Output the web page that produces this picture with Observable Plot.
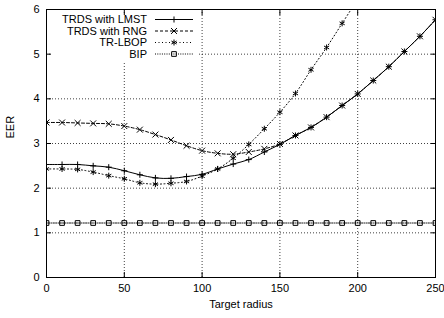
<!DOCTYPE html>
<html><head><meta charset="utf-8">
<script src="https://cdn.jsdelivr.net/npm/d3@7"></script>
<script src="https://cdn.jsdelivr.net/npm/@observablehq/plot@0.6"></script>
<style>
html,body{margin:0;padding:0;background:#fff;}
#chart{position:relative;width:444px;height:318px;}
#chart svg{font-family:"Liberation Sans",Arial,Helvetica,sans-serif;}
#legend{position:absolute;left:0;top:0;pointer-events:none;}
</style></head><body><div id="chart"></div>
<script>
const radius = [0,10,20,30,40,50,60,70,80,90,100,110,120,130,140,150,160,170,180,190,200,210,220,230,240,250];
const lmst = [2.53,2.53,2.53,2.50,2.47,2.39,2.30,2.23,2.22,2.26,2.31,2.43,2.54,2.64,2.81,2.98,3.18,3.36,3.59,3.85,4.11,4.41,4.72,5.06,5.40,5.77];
const rng  = [3.47,3.47,3.46,3.45,3.44,3.39,3.31,3.20,3.08,2.95,2.84,2.78,2.76,2.81,2.88,2.99,3.18,3.36,3.59,3.85,4.11,4.41,4.72,5.06,5.40,5.77];
const lbopRadius = [0,10,20,30,40,50,60,70,80,90,100,110,120,130,140,150,160,170,180,190,200];
const lbop = [2.43,2.43,2.42,2.36,2.28,2.21,2.12,2.09,2.11,2.15,2.27,2.43,2.67,2.98,3.33,3.70,4.12,4.65,5.15,5.69,6.23];
const bip  = [1.22,1.22,1.22,1.22,1.22,1.22,1.22,1.22,1.22,1.22,1.22,1.22,1.22,1.22,1.22,1.22,1.22,1.22,1.22,1.22,1.22,1.22,1.22,1.22,1.22,1.22];
const seriesNames = ["TRDS with LMST","TRDS with RNG","TR-LBOP","BIP"];
const xTicks = [0,50,100,150,200,250];
const yTicks = [0,1,2,3,4,5,6];
const xLabel = "Target radius";
const yLabel = "EER";

const styles = {
  "TRDS with LMST": {dash: null, symbol: "plus", r: 2.1},
  "TRDS with RNG": {dash: "3,2", symbol: "times", r: 2.8},
  "TR-LBOP": {dash: "1,2.5", symbol: "asterisk", r: 2.8},
  "BIP": {dash: "1,1.3", symbol: "square2", r: 3}
};
const table = [];
radius.forEach((x,i)=>table.push({s:seriesNames[0],x,y:lmst[i]}));
radius.forEach((x,i)=>table.push({s:seriesNames[1],x,y:rng[i]}));
lbopRadius.forEach((x,i)=>table.push({s:seriesNames[2],x,y:lbop[i]}));
radius.forEach((x,i)=>table.push({s:seriesNames[3],x,y:bip[i]}));

const seriesMarks = [];
for (const name of seriesNames) {
  const st = styles[name];
  const d = table.filter(r=>r.s===name);
  seriesMarks.push(Plot.line(d,{x:"x",y:"y",stroke:"#000",strokeWidth:1,strokeDasharray:st.dash,curve:"catmull-rom",clip:true}));
  seriesMarks.push(Plot.dot(d,{x:"x",y:"y",stroke:"#000",strokeWidth:1,fill:"none",symbol:()=>st.symbol,r:st.r,clip:true}));
}

const W=444,H=318,mL=46,mR=9,mT=9,mB=41;
const font = "Liberation Sans, Arial, Helvetica, sans-serif";
const grid = {stroke:"#000",strokeOpacity:0.75,strokeDasharray:"1,2",strokeWidth:1};
const plot = Plot.plot({
  width:W,height:H,marginLeft:mL,marginRight:mR,marginTop:mT,marginBottom:mB,
  style:{fontFamily:font,fontSize:"11px",color:"#000",background:"#fff"},
  x:{domain:[0,250]},
  y:{domain:[0,6]},
  marks:[
    Plot.gridX(xTicks.slice(1,-1),grid),
    Plot.gridY(yTicks.slice(1,-1),grid),
    Plot.axisX(xTicks,{tickSize:0,tickPadding:7,label:null,fontSize:11}),
    Plot.axisX(xTicks,{tickSize:-5,text:null,label:null}),
    Plot.axisX(xTicks,{anchor:"top",tickSize:-5,text:null,label:null}),
    Plot.axisY(yTicks,{tickSize:0,tickPadding:7,label:null,fontSize:11}),
    Plot.axisY(yTicks,{tickSize:-5,text:null,label:null}),
    Plot.axisY(yTicks,{anchor:"right",tickSize:-5,text:null,label:null}),
    Plot.text([xLabel],{text:d=>d,frameAnchor:"bottom",dy:30,fontSize:11}),
    Plot.text([yLabel],{text:d=>d,frameAnchor:"left",rotate:-90,dx:-36,dy:-5,fontSize:11}),
    Plot.frame({stroke:"#000",strokeWidth:1}),
    ...seriesMarks
  ]
});
document.getElementById("chart").appendChild(plot);

// legend overlay (gnuplot-style key)
const svg = d3.select("#chart").append("svg").attr("id","legend")
  .attr("width",W).attr("height",H).style("font-family",font).style("font-size","11px");
svg.append("rect").attr("x",52).attr("y",15).attr("width",147).attr("height",46).attr("fill","#fff");
const rowY = [19.5,31,42.5,54];
const symMap = {plus:d3.symbolPlus,times:d3.symbolTimes,asterisk:d3.symbolAsterisk,square2:d3.symbolSquare2};
seriesNames.forEach((name,i)=>{
  const st = styles[name];
  const y = rowY[i];
  svg.append("text").attr("x",147).attr("y",y).attr("dy","0.35em").attr("text-anchor","end").attr("fill","#000").text(name);
  svg.append("line").attr("x1",155).attr("x2",193).attr("y1",y).attr("y2",y)
    .attr("stroke","#000").attr("stroke-width",1).attr("stroke-dasharray",st.dash);
  svg.append("path").attr("transform",`translate(174,${y})`)
    .attr("d",d3.symbol(symMap[st.symbol],Math.PI*st.r*st.r)())
    .attr("fill","none").attr("stroke","#000").attr("stroke-width",1);
});
</script></body></html>
